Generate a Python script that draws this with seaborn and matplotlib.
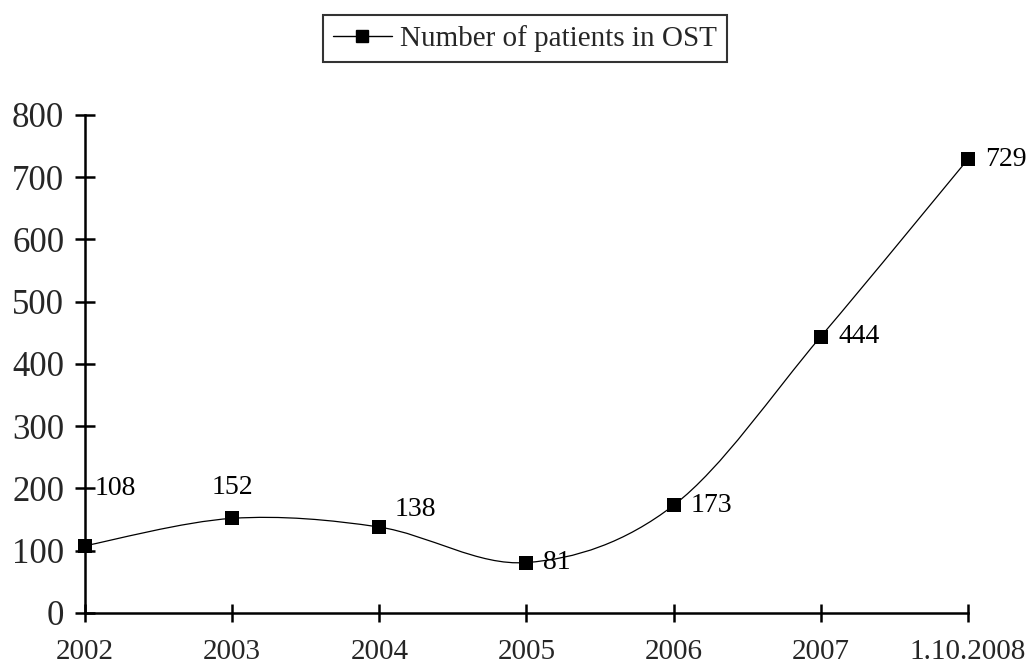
import matplotlib
matplotlib.use("Agg")
import matplotlib.pyplot as plt
import seaborn as sns
import numpy as np
import pandas as pd
from matplotlib.path import Path
from matplotlib.patches import PathPatch
from matplotlib.lines import Line2D

categories = ["2002", "2003", "2004", "2005", "2006", "2007", "1.10.2008"]
patients = [108, 152, 138, 81, 173, 444, 729]
y_ticks = [0, 100, 200, 300, 400, 500, 600, 700, 800]
series_name = "Number of patients in OST"

sns.set_theme(style="white")
plt.rcParams["font.family"] = ["Liberation Serif", "DejaVu Serif"]

df = pd.DataFrame({"pos": np.arange(len(categories)), "value": patients})

fig = plt.figure(figsize=(10.28, 6.67), dpi=100)
ax = fig.add_axes([0.0827, 0.081, 0.8589, 0.7466])

# smooth line (Excel-style Bezier through the data points)
xs = df["pos"].to_numpy(float)
ys = df["value"].to_numpy(float)
verts = [(xs[0], ys[0])]
codes = [Path.MOVETO]
n = len(xs)
for i in range(n - 1):
    p0 = np.array([xs[max(i - 1, 0)], ys[max(i - 1, 0)]])
    p1 = np.array([xs[i], ys[i]])
    p2 = np.array([xs[i + 1], ys[i + 1]])
    p3 = np.array([xs[min(i + 2, n - 1)], ys[min(i + 2, n - 1)]])
    c1 = p1 + (p2 - p0) / 6.0
    c2 = p2 - (p3 - p1) / 6.0
    verts += [tuple(c1), tuple(c2), tuple(p2)]
    codes += [Path.CURVE4] * 3
ax.add_patch(PathPatch(Path(verts, codes), facecolor="none", edgecolor="black",
                       lw=0.9, zorder=2, clip_on=False))

sns.scatterplot(data=df, x="pos", y="value", marker="s", s=110, color="black",
                edgecolor="black", linewidth=0, ax=ax, zorder=3, clip_on=False,
                legend=False)

# data labels
offsets = [(7, 41), (0, 22), (11, 13), (12, 0), (12, 0), (13, 0), (12, 0)]
aligns = ["left", "center", "left", "left", "left", "left", "left"]
for (x, y, lab, off, ha) in zip(xs, ys, patients, offsets, aligns):
    ax.annotate(str(lab), (x, y), xytext=off, textcoords="offset points",
                fontsize=20, color="black", va="center", ha=ha)

ax.set_xlim(0, len(categories) - 1)
ax.set_ylim(0, 800)
ax.set_xticks(range(len(categories)))
ax.set_xticklabels(categories)
ax.set_yticks(y_ticks)
ax.set_yticklabels([str(v) for v in y_ticks])
ax.set_xlabel("")
ax.set_ylabel("")

for side in ["top", "right"]:
    ax.spines[side].set_visible(False)
for side in ["left", "bottom"]:
    ax.spines[side].set_color("black")
    ax.spines[side].set_linewidth(1.8)

ax.tick_params(axis="y", direction="inout", length=14, width=1.8, color="black",
               labelsize=25, pad=8, left=True)
ax.tick_params(axis="x", direction="inout", length=13, width=1.8, color="black",
               labelsize=21, pad=12, bottom=True)

handle = Line2D([], [], color="black", lw=1.0, marker="s", markersize=9,
                markerfacecolor="black")
leg = fig.legend([handle], [series_name], loc="center", bbox_to_anchor=(0.511, 0.942),
                 fontsize=21, frameon=True, fancybox=False, handlelength=2.0,
                 handletextpad=0.3, borderpad=0.35)
leg.get_frame().set_edgecolor("black")
leg.get_frame().set_linewidth(1.5)

fig.savefig("out.png", dpi=100)
